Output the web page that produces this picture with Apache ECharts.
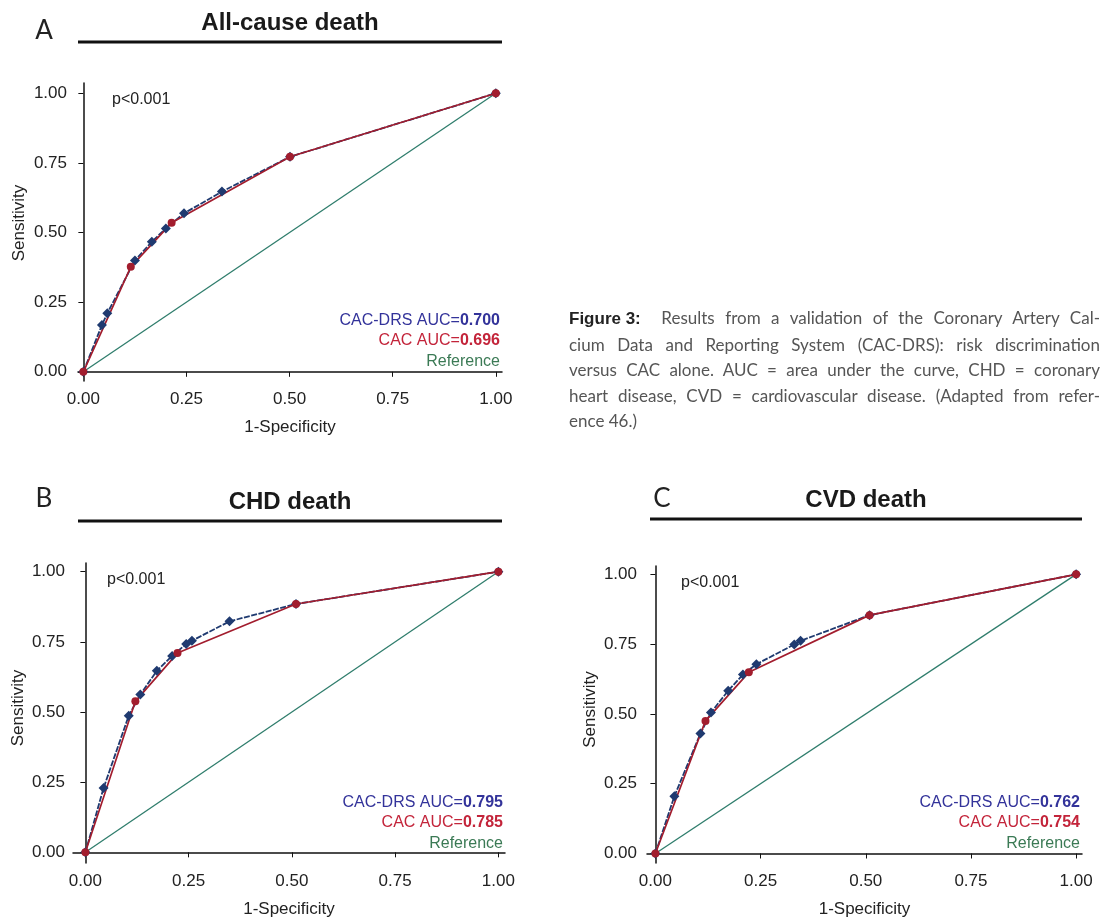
<!DOCTYPE html>
<html>
<head>
<meta charset="utf-8">
<script src="https://cdn.jsdelivr.net/npm/echarts@6/dist/echarts.min.js"></script>
<style>
  html, body { margin: 0; padding: 0; background: #fff; }
  #wrap { position: relative; width: 1102px; height: 919px; }
  #chart { position: absolute; left: 0; top: 0; width: 1102px; height: 919px; }
  #caption {
    position: absolute; left: 569px; top: 305px; width: 531px;
    font-family: Lato, "Open Sans", sans-serif; font-size: 17px;
    line-height: 25.5px; color: #555;
  }
  #caption .ln { text-align: justify; text-align-last: justify; white-space: nowrap; }
  #caption .ln.last { text-align-last: left; }
  #caption .fig {
    display: inline-block; margin-right: 10px; color: #222;
    font-family: "Liberation Sans", Arial, sans-serif; font-weight: bold; font-size: 17px;
  }
</style>
</head>
<body>
<div id="wrap">
  <div id="chart"></div>
  <div id="caption">
    <div class="ln"><span class="fig">Figure 3:</span> Results from a validation of the Coronary Artery Cal-</div>
    <div class="ln">cium Data and Reporting System (CAC-DRS): risk discrimination</div>
    <div class="ln">versus CAC alone. AUC = area under the curve, CHD = coronary</div>
    <div class="ln">heart disease, CVD = cardiovascular disease. (Adapted from refer-</div>
    <div class="ln last">ence 46.)</div>
  </div>
</div>
<script>
// ---- data ----
const panelLetters = ["A", "B", "C"];
const panelTitles = ["All-cause death", "CHD death", "CVD death"];
const drsAUC = ["0.700", "0.795", "0.762"];
const cacAUC = ["0.696", "0.785", "0.754"];
const pValueText = "p<0.001";
const tickValues = [0, 0.25, 0.5, 0.75, 1];

const allCauseDrsX = [0, 0.045, 0.058, 0.125, 0.166, 0.200, 0.244, 0.336, 0.501, 1];
const allCauseDrsY = [0, 0.168, 0.210, 0.400, 0.467, 0.515, 0.569, 0.647, 0.772, 1];
const allCauseCacX = [0, 0.115, 0.214, 0.501, 1];
const allCauseCacY = [0, 0.377, 0.535, 0.772, 1];

const chdDrsX = [0, 0.044, 0.105, 0.133, 0.173, 0.210, 0.244, 0.258, 0.349, 0.510, 1];
const chdDrsY = [0, 0.229, 0.487, 0.562, 0.647, 0.700, 0.742, 0.754, 0.823, 0.885, 1];
const chdCacX = [0, 0.121, 0.223, 0.510, 1];
const chdCacY = [0, 0.538, 0.710, 0.885, 1];

const cvdDrsX = [0, 0.045, 0.107, 0.132, 0.173, 0.208, 0.240, 0.330, 0.345, 0.509, 1];
const cvdDrsY = [0, 0.205, 0.430, 0.505, 0.583, 0.641, 0.678, 0.749, 0.762, 0.854, 1];
const cvdCacX = [0, 0.119, 0.222, 0.509, 1];
const cvdCacY = [0, 0.475, 0.649, 0.854, 1];

const refX = [0, 1];
const refY = [0, 1];

// ---- layout ----
const zip = (xs, ys) => xs.map((x, i) => [x, ys[i]]);
const drsData = [zip(allCauseDrsX, allCauseDrsY), zip(chdDrsX, chdDrsY), zip(cvdDrsX, cvdDrsY)];
const cacData = [zip(allCauseCacX, allCauseCacY), zip(chdCacX, chdCacY), zip(cvdCacX, cvdCacY)];

const grids = [
  { left: 78, top: 83, width: 424, height: 298 },
  { left: 73, top: 563, width: 432, height: 300 },
  { left: 647, top: 566, width: 435, height: 297 },
];
const xRange = [[-0.013, 1.015], [-0.030, 1.016], [-0.020, 1.014]];
const yRange = [[-0.033, 1.037], [-0.038, 1.031], [-0.034, 1.030]];
const yLabelMargin = [11, 8, 10];
const yNameGap = [50, 46, 48];
const yNameShift = [18, 10, 10];
const titleBar = [[78, 502, 42], [78, 502, 521], [650, 1082, 519]];
const letterPos = [[44, 31], [44, 499], [662, 499]];

const BLUE = "#1f3a70";
const RED = "#a21d2e";
const TEAL = "#2f7d6c";
const FONT = '"Liberation Sans", Arial, sans-serif';

const chart = echarts.init(document.getElementById("chart"));

const xAxis = grids.map((g, i) => ({
  gridIndex: i,
  type: "value",
  min: xRange[i][0],
  max: xRange[i][1],
  name: "1-Specificity",
  nameLocation: "middle",
  nameGap: 38,
  nameTextStyle: { color: "#222", fontSize: 17, fontFamily: FONT },
  axisLine: { lineStyle: { color: "#111", width: 1.5 } },
  axisTick: { customValues: tickValues, length: 5, lineStyle: { color: "#111" } },
  axisLabel: {
    customValues: tickValues,
    formatter: (v) => v.toFixed(2),
    color: "#222", fontSize: 17, fontFamily: FONT, margin: 10,
  },
  splitLine: { show: false },
}));

const yAxis = grids.map((g, i) => ({
  gridIndex: i,
  type: "value",
  min: yRange[i][0],
  max: yRange[i][1],
  name: "Sensitivity",
  nameLocation: "middle",
  nameGap: yNameGap[i],
  nameTextStyle: { color: "#222", fontSize: 17, fontFamily: FONT, padding: [0, 0, 0, yNameShift[i]] },
  axisLine: { show: true, lineStyle: { color: "#111", width: 1.5 } },
  axisTick: { show: true, customValues: tickValues, length: 5, lineStyle: { color: "#111" } },
  axisLabel: {
    customValues: tickValues,
    formatter: (v) => v.toFixed(2),
    color: "#222", fontSize: 17, fontFamily: FONT, margin: yLabelMargin[i],
  },
  splitLine: { show: false },
}));

const series = [];
grids.forEach((g, i) => {
  series.push({
    type: "line", xAxisIndex: i, yAxisIndex: i,
    data: zip(refX, refY), showSymbol: false, silent: true,
    lineStyle: { color: TEAL, width: 1.3 },
  });
  series.push({
    type: "line", xAxisIndex: i, yAxisIndex: i, data: drsData[i],
    symbol: "diamond", symbolSize: 10,
    itemStyle: { color: BLUE },
    lineStyle: { color: BLUE, width: 1.8, type: [6, 1.5] },
  });
  series.push({
    type: "line", xAxisIndex: i, yAxisIndex: i, data: cacData[i],
    symbol: "circle", symbolSize: 8,
    itemStyle: { color: RED },
    lineStyle: { color: RED, width: 1.7 },
  });
});

const graphic = [];
grids.forEach((g, i) => {
  const [x1, x2, yb] = titleBar[i];
  graphic.push({
    type: "line", shape: { x1, y1: yb, x2, y2: yb },
    style: { stroke: "#111", lineWidth: 3 },
  });
  graphic.push({
    type: "text", x: (x1 + x2) / 2, y: yb - 19,
    style: {
      text: panelTitles[i], fill: "#1a1a1a", font: "bold 24px " + FONT,
      align: "center", verticalAlign: "middle",
    },
  });
  graphic.push({
    type: "text", x: letterPos[i][0], y: letterPos[i][1],
    style: {
      text: panelLetters[i], fill: "#222", font: "26px Lato, 'Open Sans', sans-serif",
      align: "center", verticalAlign: "middle",
    },
  });
  const right = g.left + g.width - 2;
  const bottom = g.top + g.height;
  graphic.push({
    type: "text", x: g.left + 34, y: g.top + 17,
    style: { text: pValueText, fill: "#222", font: "16px " + FONT, verticalAlign: "middle" },
  });
  graphic.push({
    type: "text", x: right, y: bottom - 60,
    style: {
      text: "{n|CAC-DRS AUC=}{b|" + drsAUC[i] + "}", align: "right", verticalAlign: "middle",
      rich: {
        n: { fill: "#33339a", font: "16px " + FONT },
        b: { fill: "#33339a", font: "bold 16px " + FONT },
      },
    },
  });
  graphic.push({
    type: "text", x: right, y: bottom - 40,
    style: {
      text: "{n|CAC AUC=}{b|" + cacAUC[i] + "}", align: "right", verticalAlign: "middle",
      rich: {
        n: { fill: "#c3243a", font: "16px " + FONT },
        b: { fill: "#c3243a", font: "bold 16px " + FONT },
      },
    },
  });
  graphic.push({
    type: "text", x: right, y: bottom - 19,
    style: { text: "Reference", fill: "#3b7a55", font: "16px " + FONT, align: "right", verticalAlign: "middle" },
  });
});

chart.setOption({
  animation: false,
  backgroundColor: "#fff",
  grid: grids,
  xAxis,
  yAxis,
  series,
  graphic,
});
</script>
</body>
</html>
